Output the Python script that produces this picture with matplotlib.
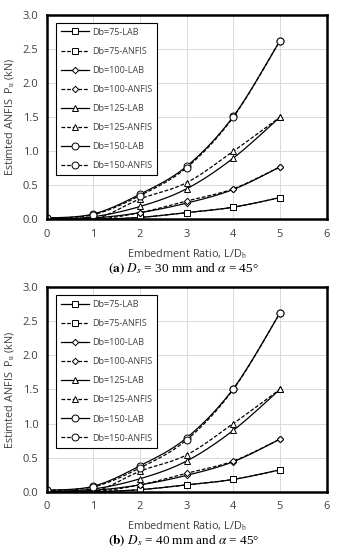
import matplotlib
matplotlib.use("Agg")
import matplotlib.pyplot as plt
import numpy as np
from matplotlib.lines import Line2D

x = [0, 1, 2, 3, 4, 5]

# Panel (a)
a_75_lab = [0.0, 0.0, 0.03, 0.10, 0.18, 0.32]
a_75_anfis = [0.0, 0.0, 0.03, 0.10, 0.18, 0.32]
a_100_lab = [0.0, 0.02, 0.10, 0.24, 0.44, 0.77]
a_100_anfis = [0.02, 0.0, 0.10, 0.27, 0.45, 0.77]
a_125_lab = [0.0, 0.04, 0.19, 0.45, 0.90, 1.50]
a_125_anfis = [0.01, 0.0, 0.30, 0.54, 1.00, 1.50]
a_150_lab = [0.02, 0.08, 0.37, 0.78, 1.51, 2.62]
a_150_anfis = [0.02, 0.07, 0.35, 0.76, 1.50, 2.62]

# Panel (b)
b_75_lab = [0.0, 0.0, 0.03, 0.10, 0.18, 0.32]
b_75_anfis = [0.0, 0.0, 0.03, 0.10, 0.18, 0.32]
b_100_lab = [0.0, 0.02, 0.10, 0.24, 0.44, 0.77]
b_100_anfis = [0.02, 0.0, 0.10, 0.27, 0.45, 0.77]
b_125_lab = [0.0, 0.04, 0.19, 0.45, 0.90, 1.50]
b_125_anfis = [0.01, 0.0, 0.30, 0.54, 1.00, 1.50]
b_150_lab = [0.02, 0.08, 0.38, 0.79, 1.51, 2.62]
b_150_anfis = [0.02, 0.07, 0.35, 0.76, 1.50, 2.62]

labels = ["Db=75-LAB", "Db=75-ANFIS", "Db=100-LAB", "Db=100-ANFIS",
          "Db=125-LAB", "Db=125-ANFIS", "Db=150-LAB", "Db=150-ANFIS"]
captions = [r"$\mathbf{(a)}$ $D_s$ = 30 mm and $\alpha$ = 45°",
            r"$\mathbf{(b)}$ $D_s$ = 40 mm and $\alpha$ = 45°"]

panels = [
    [a_75_lab, a_75_anfis, a_100_lab, a_100_anfis, a_125_lab, a_125_anfis, a_150_lab, a_150_anfis],
    [b_75_lab, b_75_anfis, b_100_lab, b_100_anfis, b_125_lab, b_125_anfis, b_150_lab, b_150_anfis],
]

markers = ["s", "s", "D", "D", "^", "^", "o", "o"]
msizes = [4.3, 4.3, 3.2, 3.2, 4.3, 4.3, 5.0, 5.0]
styles = ["-", "--"] * 4


def smooth(xs, ys, n=20):
    """Excel-like smoothed line through the data points (cubic Bezier)."""
    P = np.column_stack([xs, ys]).astype(float)
    out = []
    for i in range(len(P) - 1):
        p0 = P[i - 1] if i > 0 else P[i]
        p1, p2 = P[i], P[i + 1]
        p3 = P[i + 2] if i + 2 < len(P) else P[i + 1]
        c1 = p1 + (p2 - p0) / 6.0
        c2 = p2 - (p3 - p1) / 6.0
        t = np.linspace(0, 1, n)[:, None]
        seg = ((1 - t) ** 3) * p1 + 3 * ((1 - t) ** 2) * t * c1 + 3 * (1 - t) * t ** 2 * c2 + t ** 3 * p2
        out.append(seg if i == 0 else seg[1:])
    c = np.vstack(out)
    return c[:, 0], c[:, 1]


plt.rcParams["font.family"] = ["Open Sans", "DejaVu Sans"]
plt.rcParams["mathtext.fontset"] = "stix"

fig = plt.figure(figsize=(3.42, 5.5), dpi=100)
rects = [[0.1365, 0.601, 0.8185, 0.372], [0.1365, 0.106, 0.8185, 0.372]]

for rect, series, cap in zip(rects, panels, captions):
    ax = fig.add_axes(rect)
    handles = []
    for ys, lab, m, ms, ls in zip(series, labels, markers, msizes, styles):
        dash = (3, 1.5) if ls == "--" else (None, None)
        sx, sy = smooth(x, ys)
        ax.plot(sx, sy, color="black", linestyle=ls, linewidth=0.9, dashes=dash)
        ax.plot(x, ys, linestyle="none", marker=m, markersize=ms,
                markerfacecolor="white", markeredgecolor="black", markeredgewidth=0.7)
        handles.append(Line2D([], [], color="black", linestyle=ls, linewidth=0.9,
                              dashes=dash, marker=m, markersize=ms,
                              markerfacecolor="white", markeredgecolor="black",
                              markeredgewidth=0.7, label=lab))
    ax.set_xlim(0, 6)
    ax.set_ylim(0, 3.0)
    ax.set_xticks(range(0, 7))
    ax.set_yticks([0, 0.5, 1.0, 1.5, 2.0, 2.5, 3.0])
    ax.set_yticklabels(["0.0", "0.5", "1.0", "1.5", "2.0", "2.5", "3.0"])
    ax.grid(True, color="#d9d9d9", linewidth=0.7)
    ax.set_axisbelow(True)
    for s in ax.spines.values():
        s.set_linewidth(1.8)
    ax.tick_params(length=0, labelsize=8, pad=6, colors="#404040")
    ax.tick_params(axis="x", pad=7)
    ax.set_xlabel("Embedment Ratio, L/D$_\\mathrm{b}$", fontsize=7.8, color="#404040", labelpad=5)
    ax.set_ylabel("Estimted ANFIS  P$_\\mathrm{u}$ (kN)", fontsize=7.8, color="#404040", labelpad=5)
    leg = ax.legend(handles=handles, loc="upper left", bbox_to_anchor=(0.035, 0.962),
                    fontsize=6.5, labelspacing=1.12, handlelength=3.0, handletextpad=0.35,
                    borderpad=0.55, borderaxespad=0, fancybox=False, framealpha=1,
                    edgecolor="black")
    leg.get_frame().set_linewidth(0.8)
    for t in leg.get_texts():
        t.set_color("#404040")
    ax.text(0.49, -0.24, cap, transform=ax.transAxes, ha="center", va="center",
            fontsize=9.5, family=["Liberation Serif", "DejaVu Serif"])

fig.savefig("out.png", dpi=100)
